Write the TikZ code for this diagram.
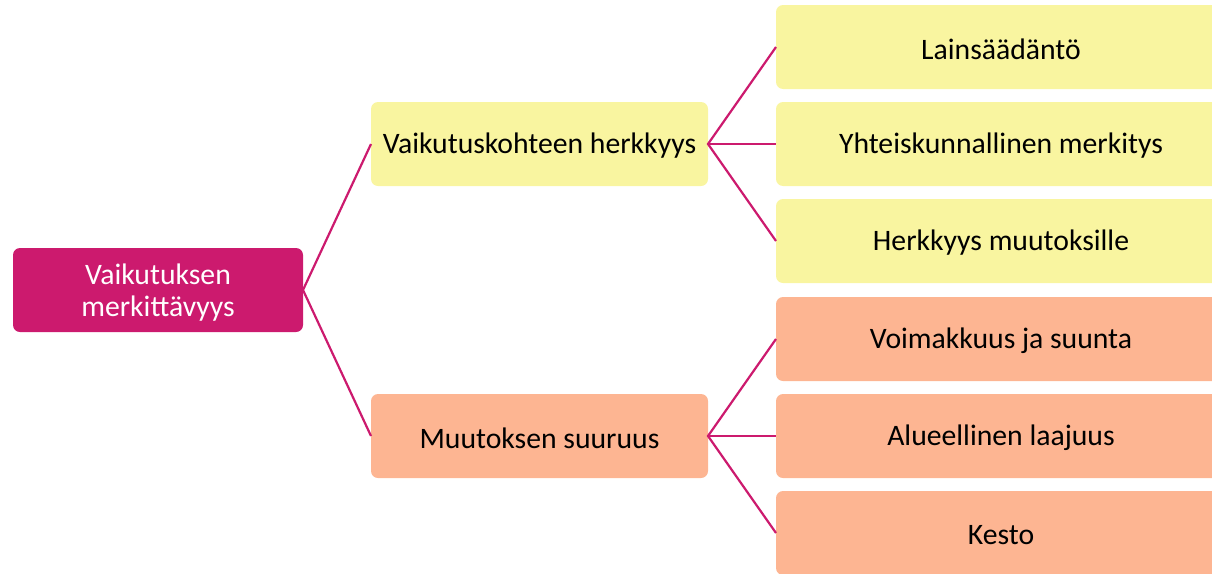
\documentclass[tikz,border=0pt]{standalone}
\usepackage{fontspec}
\setmainfont{Carlito}
\definecolor{mag}{HTML}{CC1A6E}
\definecolor{yel}{HTML}{F9F5A0}
\definecolor{sal}{HTML}{FDB592}
\begin{document}
\begin{tikzpicture}[x=1pt,y=-1pt,
  lbl/.style={inner sep=0pt,font=\fontsize{29.7}{32}\selectfont},
  link/.style={draw=mag,line width=2.2pt}]
\useasboundingbox (0,0) rectangle (1212,573);
\clip (0,0) rectangle (1212,573);
% root
\fill[mag,rounded corners=7pt] (13,248) rectangle (303,332);
\node[lbl,text=white,align=center] (root) at (158,292.5) {Vaikutuksen\\merkittävyys};
\coordinate (rootR) at (303,290);
% mid
\fill[yel,rounded corners=7pt] (371,102) rectangle (708,186);
\node[lbl] (m1) at (539.5,146) {Vaikutuskohteen herkkyys};
\coordinate (m1L) at (371,144); \coordinate (m1R) at (708,144);
\fill[sal,rounded corners=7pt] (371,394) rectangle (708,478);
\node[lbl] (m2) at (539.5,438) {Muutoksen suuruus};
\coordinate (m2L) at (371,436); \coordinate (m2R) at (708,436);
% right
\foreach \n/\y/\c/\t in {a/5/yel/Lainsäädäntö, b/102/yel/Yhteiskunnallinen merkitys, c/199/yel/Herkkyys muutoksille, d/297/sal/Voimakkuus ja suunta, e/394/sal/Alueellinen laajuus, f/491/sal/Kesto}{
  \fill[\c,rounded corners=7pt] (776,\y) rectangle (1230,\y+84);
  \node[lbl] (\n) at (1001,\y+44) {\t};
  \coordinate (\n L) at (776,\y+42);
}
\draw[link] (m1L) -- (rootR) -- (m2L);
\draw[link] (aL) -- (m1R) -- (cL);
\draw[link] (m1R) -- (bL);
\draw[link] (dL) -- (m2R) -- (fL);
\draw[link] (m2R) -- (eL);
\end{tikzpicture}
\end{document}
